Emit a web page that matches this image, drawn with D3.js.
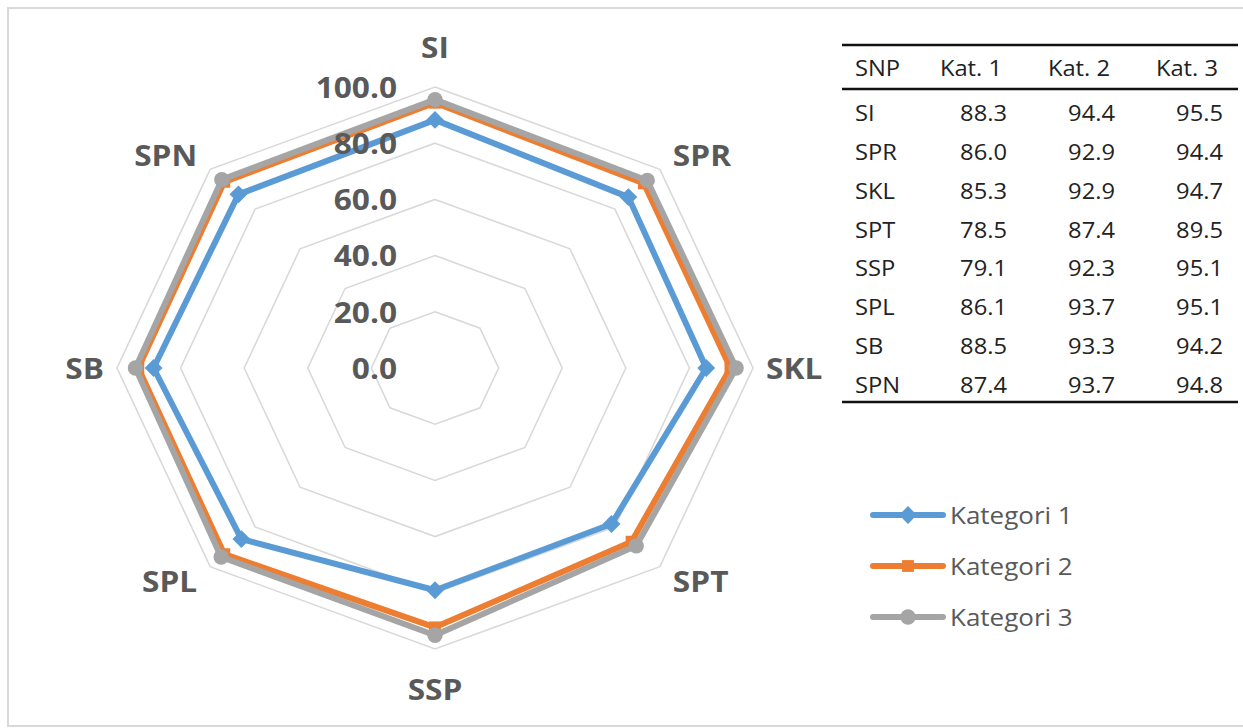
<!DOCTYPE html>
<html>
<head>
<meta charset="utf-8">
<script src="https://cdn.jsdelivr.net/npm/d3@7"></script>
<style>
  body { margin: 0; background: #fff; }
  text { font-family: "Open Sans", "Noto Sans", sans-serif; }
</style>
</head>
<body>
<svg id="chart" width="1243" height="728"></svg>
<script>
// data
const axes = ["SI", "SPR", "SKL", "SPT", "SSP", "SPL", "SB", "SPN"];
const kat1 = [88.3, 86.0, 85.3, 78.5, 79.1, 86.1, 88.5, 87.4];
const kat2 = [94.4, 92.9, 92.9, 87.4, 92.3, 93.7, 93.3, 93.7];
const kat3 = [95.5, 94.4, 94.7, 89.5, 95.1, 95.1, 94.2, 94.8];
const seriesNames = ["Kategori 1", "Kategori 2", "Kategori 3"];
const tableHeaders = ["SNP", "Kat. 1", "Kat. 2", "Kat. 3"];
const ringTicks = [0, 20, 40, 60, 80, 100];

const colors = ["#5B9BD5", "#ED7D31", "#A5A5A5"];
// diamond = square turned 45deg
const markerTypes = [d3.symbolSquare, d3.symbolSquare, d3.symbolCircle];
const markerSizes = [160, 140, 185];
const markerRot = [45, 0, 0];
const SX = 1.13; // the picture is a bit stretched sideways

const svg = d3.select("#chart");
const cx = 435, cy = 368;

// frame
svg.append("rect")
    .attr("x", 8).attr("y", 8)
    .attr("width", 1260).attr("height", 718)
    .attr("fill", "none")
    .attr("stroke", "#d9d9d9")
    .attr("stroke-width", 2);

// helper: text stretched like the source picture
function addText(g, x, y, str) {
    return g.append("text")
        .attr("transform", `translate(${x},${y}) scale(${SX},1)`)
        .text(str);
}

const rX = d3.scaleLinear().domain([0, 100]).range([0, 318]);
const rY = d3.scaleLinear().domain([0, 100]).range([0, 281]);
const angle = d3.scalePoint().domain(axes).range([0, 2 * Math.PI * 7 / 8]);

const px = (a, v) => cx + rX(v) * Math.sin(angle(a));
const py = (a, v) => cy - rY(v) * Math.cos(angle(a));

// rings
const rings = svg.append("g");
ringTicks.filter(t => t > 0).forEach(t => {
    rings.append("polygon")
        .attr("points", axes.map(a => px(a, t) + "," + py(a, t)).join(" "))
        .attr("fill", "none")
        .attr("stroke", "#d9d9d9")
        .attr("stroke-width", 1.6);
});

// series
const allSeries = [kat1, kat2, kat3];
allSeries.forEach((vals, si) => {
    const g = svg.append("g");
    const pts = axes.map((a, i) => [px(a, vals[i]), py(a, vals[i])]);
    g.append("path")
        .attr("d", d3.line().curve(d3.curveLinearClosed)(pts))
        .attr("fill", "none")
        .attr("stroke", colors[si])
        .attr("stroke-width", 6)
        .attr("stroke-linejoin", "round");
    g.selectAll("path.m")
        .data(pts)
        .enter()
        .append("path")
        .attr("class", "m")
        .attr("transform", d => `translate(${d[0]},${d[1]}) rotate(${markerRot[si]})`)
        .attr("d", d3.symbol().type(markerTypes[si]).size(markerSizes[si]))
        .attr("fill", colors[si]);
});

// tick labels
const ticks = svg.append("g")
    .attr("fill", "#595959")
    .style("font-size", "28px")
    .style("font-weight", "700");
ringTicks.forEach(t => {
    addText(ticks, 397, cy - rY(t), d3.format(".1f")(t))
        .attr("text-anchor", "end")
        .attr("dominant-baseline", "central");
});

// category labels
const cats = svg.append("g")
    .attr("fill", "#595959")
    .style("font-size", "28px")
    .style("font-weight", "700");
axes.forEach(a => {
    const s = Math.sin(angle(a)), c = Math.cos(angle(a));
    let x = px(a, 100), y = py(a, 100);
    let anchor = "middle";
    if (s > 0.1) { anchor = "start"; x += 13; }
    if (s < -0.1) { anchor = "end"; x -= 13; }
    y -= 40 * c * c * c;
    addText(cats, x, y, a)
        .attr("text-anchor", anchor)
        .attr("dominant-baseline", "central");
});

// table
const table = svg.append("g")
    .attr("fill", "#222")
    .style("font-size", "21px");
const tx0 = 842, tx1 = 1238;
const colRight = [null, 1007, 1115, 1223];
const rowY = d3.scaleLinear().domain([0, 7]).range([113, 385]);
[45, 89, 402].forEach(y => {
    table.append("line")
        .attr("x1", tx0).attr("x2", tx1)
        .attr("y1", y).attr("y2", y)
        .attr("stroke", "#111")
        .attr("stroke-width", 2.5);
});
tableHeaders.forEach((h, i) => {
    if (i === 0) addText(table, 855, 68, h).attr("dominant-baseline", "central");
    else addText(table, colRight[i] - 5, 68, h)
        .attr("text-anchor", "end").attr("dominant-baseline", "central");
});
axes.forEach((a, r) => {
    addText(table, 855, rowY(r), a).attr("dominant-baseline", "central");
    allSeries.forEach((vals, si) => {
        addText(table, colRight[si + 1], rowY(r), d3.format(".1f")(vals[r]))
            .attr("text-anchor", "end")
            .attr("dominant-baseline", "central");
    });
});

// legend
const legend = svg.append("g");
const legY = d3.scalePoint().domain(seriesNames).range([515, 617]);
seriesNames.forEach((name, si) => {
    const y = legY(name);
    legend.append("line")
        .attr("x1", 873).attr("x2", 943)
        .attr("y1", y).attr("y2", y)
        .attr("stroke", colors[si])
        .attr("stroke-width", 6)
        .attr("stroke-linecap", "round");
    legend.append("path")
        .attr("transform", `translate(908,${y}) rotate(${markerRot[si]})`)
        .attr("d", d3.symbol().type(markerTypes[si]).size(markerSizes[si]))
        .attr("fill", colors[si]);
    addText(legend, 950, y, name)
        .attr("fill", "#595959")
        .style("font-size", "23px")
        .attr("dominant-baseline", "central");
});
</script>
</body>
</html>
